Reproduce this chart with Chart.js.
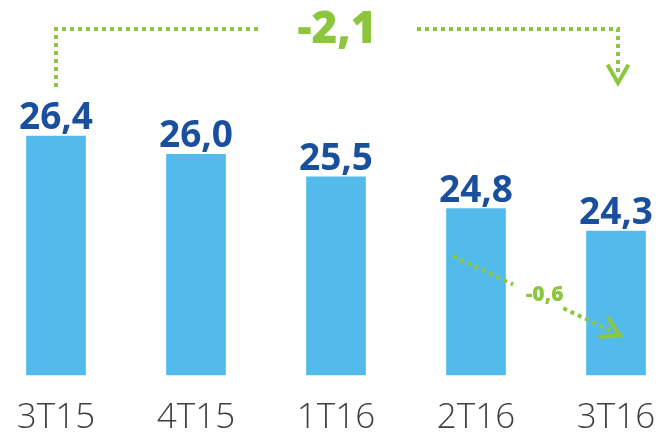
<!DOCTYPE html>
<html>
<head>
<meta charset="utf-8">
<script src="https://cdn.jsdelivr.net/npm/chart.js@4/dist/chart.umd.min.js"></script>
<style>
    html, body { margin: 0; padding: 0; background: #fff; }
    #wrap { width: 660px; height: 432px; }
</style>
</head>
<body>
<div id="wrap"><canvas id="chart1" width="660" height="432"></canvas></div>
<script>
// Datos del gráfico
var quarters = ['3T15', '4T15', '1T16', '2T16', '3T16'];
var values = [26.4, 26.0, 25.5, 24.8, 24.3];

// Textos de las variaciones (tal como salen en la imagen)
var totalChangeText = '-2,1';
var lastChangeText = '-0,6';
// Puntos de la flecha pequeña (indice, valor)
var lastArrowFrom = [2.835, 23.75];
var lastArrowTo = [4.03, 22.0];

// rango del eje (no se dibuja)
var yMin = 21.12;
var yMax = 29.3;

var barColor = '#53BBEB';
var valueColor = '#1A4F9E';
var green = '#8CC63F';
var labelColor = '#404040';

function formatValue(v) {
    return v.toFixed(1).replace('.', ',');
}

// etiquetas de valor encima de cada barra + etiquetas del eje x
var valueLabels = {
    id: 'valueLabels',
    afterDatasetsDraw: function (chart) {
        var ctx = chart.ctx;
        var meta = chart.getDatasetMeta(0);
        var xs = chart.scales.x;
        ctx.save();
        ctx.font = 'bold 37px "Open Sans"';
        ctx.fillStyle = valueColor;
        ctx.textAlign = 'center';
        ctx.textBaseline = 'alphabetic';
        meta.data.forEach(function (bar, i) {
            ctx.fillText(formatValue(values[i]), bar.x, bar.y - 7);
        });

        ctx.font = '300 35px "Open Sans"';
        ctx.fillStyle = labelColor;
        quarters.forEach(function (q, i) {
            ctx.fillText(q, xs.getPixelForValue(i), chart.chartArea.bottom + 53);
        });
        ctx.restore();
    }
};

function chevron(ctx, tipX, tipY, angle, len, spread) {
    ctx.beginPath();
    ctx.moveTo(tipX + Math.cos(angle + spread) * len, tipY + Math.sin(angle + spread) * len);
    ctx.lineTo(tipX, tipY);
    ctx.lineTo(tipX + Math.cos(angle - spread) * len, tipY + Math.sin(angle - spread) * len);
    ctx.stroke();
}

// flechas verdes punteadas
var changeArrows = {
    id: 'changeArrows',
    afterDraw: function (chart) {
        var ctx = chart.ctx;
        var xs = chart.scales.x;
        var ys = chart.scales.y;
        var x0 = xs.getPixelForValue(0);
        var x4 = xs.getPixelForValue(quarters.length - 1) + 2;
        var top = 29;
        var mid = (x0 + x4) / 2;

        ctx.save();
        ctx.strokeStyle = green;
        ctx.fillStyle = green;
        ctx.lineWidth = 4;
        ctx.setLineDash([4, 4]);

        // corchete de arriba
        ctx.beginPath();
        ctx.moveTo(x0, 87);
        ctx.lineTo(x0, top);
        ctx.lineTo(mid - 78, top);
        ctx.stroke();
        ctx.beginPath();
        ctx.moveTo(mid + 80, top);
        ctx.lineTo(x4, top);
        ctx.lineTo(x4, 72);
        ctx.stroke();
        ctx.setLineDash([]);
        ctx.lineWidth = 4;
        chevron(ctx, x4, 83, -Math.PI / 2, 21, 0.52);

        ctx.font = '800 44px "Open Sans"';
        ctx.textAlign = 'center';
        ctx.textBaseline = 'alphabetic';
        ctx.fillText(totalChangeText, mid, 43);

        // flecha pequeña 2T16 -> 3T16
        var ax = xs.getPixelForValue(lastArrowFrom[0]);
        var ay = ys.getPixelForValue(lastArrowFrom[1]);
        var bx = xs.getPixelForValue(lastArrowTo[0]);
        var by = ys.getPixelForValue(lastArrowTo[1]);
        var ang = Math.atan2(by - ay, bx - ax);
        var len = Math.hypot(bx - ax, by - ay);
        ctx.lineWidth = 4;
        ctx.setLineDash([4, 4]);
        ctx.beginPath();
        ctx.moveTo(ax, ay);
        ctx.lineTo(ax + Math.cos(ang) * len * 0.36, ay + Math.sin(ang) * len * 0.36);
        ctx.stroke();
        ctx.beginPath();
        ctx.moveTo(ax + Math.cos(ang) * len * 0.66, ay + Math.sin(ang) * len * 0.66);
        ctx.lineTo(bx - Math.cos(ang) * 6, by - Math.sin(ang) * 6);
        ctx.stroke();
        ctx.setLineDash([]);
        ctx.lineWidth = 4;
        chevron(ctx, bx, by, ang + Math.PI, 22, 0.52);

        ctx.font = '800 21px "Open Sans"';
        ctx.fillText(lastChangeText, (ax + bx) / 2 + 8, (ay + by) / 2 + 5);
        ctx.restore();
    }
};

var chart1Ctx = document.getElementById('chart1').getContext('2d');
var chart1 = new Chart(chart1Ctx, {
    type: 'bar',
    data: {
        labels: quarters,
        datasets: [{
            data: values,
            base: yMin,
            backgroundColor: barColor,
            barThickness: 59,
            clip: false
        }]
    },
    options: {
        responsive: false,
        animation: false,
        layout: {
            padding: { left: 56, right: 44, top: 5, bottom: 57 }
        },
        plugins: {
            legend: { display: false },
            tooltip: { enabled: false }
        },
        scales: {
            x: {
                display: false,
                offset: false
            },
            y: {
                display: false,
                min: yMin,
                max: yMax
            }
        }
    },
    plugins: [valueLabels, changeArrows]
});
</script>
</body>
</html>
